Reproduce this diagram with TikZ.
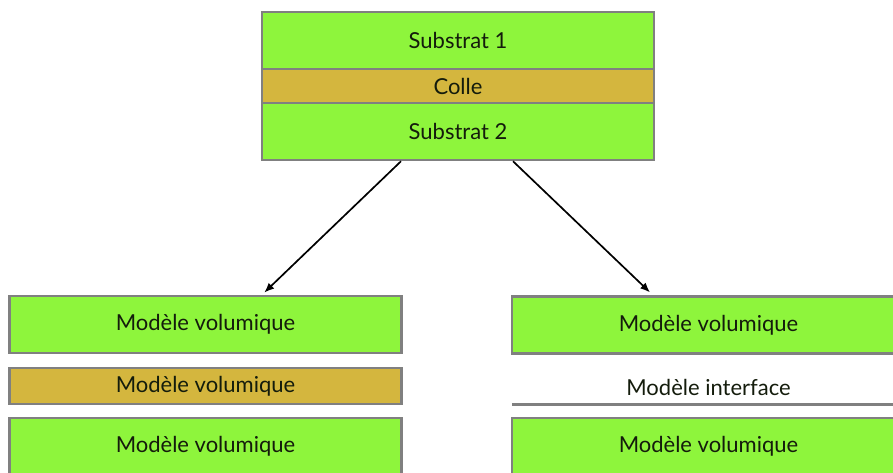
\documentclass[tikz,border=0pt]{standalone}
\usepackage{fontspec}
\setmainfont{Lato}
\usetikzlibrary{arrows.meta}
\definecolor{vert}{RGB}{142,245,60}
\definecolor{ocre}{RGB}{212,182,62}
\definecolor{bord}{RGB}{128,128,128}
\definecolor{encre}{RGB}{20,28,12}
\begin{document}
\begin{tikzpicture}[x=1pt, y=-1pt,
		couche/.style={draw=bord, line width=2.5pt, minimum width=392pt, inner sep=0pt, text=encre, font=\fontsize{22}{26}\selectfont},
		volume/.style={couche, fill=vert, minimum height=57pt},
		colle/.style={couche, fill=ocre, minimum height=34pt},
		fleche/.style={-{Latex[length=10pt,width=8pt]}, line width=1.7pt}]
			\useasboundingbox (0,0) rectangle (893,473);
			\clip (0,0) rectangle (893,473);
			%Noeuds du diagramme
			\node[volume] (substratA) at (458,40.5) {Substrat 1};
			\node[colle] (colle) at (458,86) {Colle};
			\node[volume] (substratB) at (458,131.5) {Substrat 2};
			
			\node[volume] (volG1) at (205.5,324.5) {Modèle volumique};
			\node[colle, minimum height=36pt] (volG2) at (205.5,386) {Modèle volumique};
			\node[volume] (volG3) at (205.5,446.5) {Modèle volumique};
			
			\node[volume, minimum width=393pt] (volD1) at (708.5,325) {Modèle volumique};
			\node[minimum width=393pt, minimum height=34pt, inner sep=0pt, text=encre, font=\fontsize{22}{26}\selectfont] (interface) at (708.5,387) {Modèle interface};
			\node[volume, minimum width=393pt] (volD3) at (708.5,446.5) {Modèle volumique};
			%Trait de l'interface
			\draw[bord, line width=3pt] (interface.south west) -- (interface.south east);
			%Flèches
			\draw[fleche, shorten >=3pt] ([xshift=-57]substratB.south) -- ([xshift=56.5]volG1.north);
			\draw[fleche, shorten >=4pt] ([xshift=55]substratB.south) -- ([xshift=-55.5]volD1.north);
		\end{tikzpicture}
\end{document}
